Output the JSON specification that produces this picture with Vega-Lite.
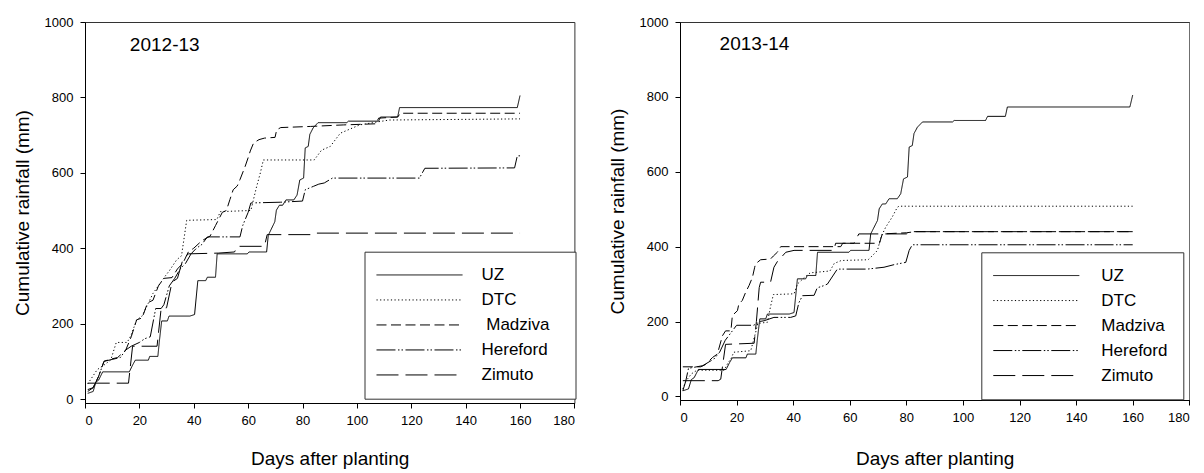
{
  "$schema": "https://vega.github.io/schema/vega-lite/v6.json",
  "background": "white",
  "padding": {"left": 12, "top": 15, "right": 0, "bottom": 0},
  "config": {
    "font": "Liberation Sans",
    "view": {"stroke": "#333", "strokeWidth": 1},
    "axis": {
      "grid": false,
      "domainColor": "black",
      "tickColor": "black",
      "labelColor": "black",
      "titleColor": "black",
      "labelFont": "Liberation Sans",
      "titleFont": "Liberation Sans",
      "labelFontSize": 13,
      "titleFontSize": 19,
      "titleFontWeight": "normal",
      "tickSize": 5,
      "format": "d"
    },
    "legend": {
      "orient": "none",
      "symbolType": "stroke",
      "symbolSize": 7400,
      "symbolStrokeWidth": 1,
      "symbolStrokeColor": "black",
      "clipHeight": 24.5,
      "rowPadding": 0,
      "padding": 11,
      "strokeColor": "#333",
      "fillColor": "white",
      "labelFont": "Liberation Sans",
      "labelFontSize": 17,
      "labelColor": "black",
      "title": null
    }
  },
  "datasets": {
    "rain": [
      {"panel":"L","series":"UZ","day":1,"rain":15},{"panel":"L","series":"UZ","day":3,"rain":20},{"panel":"L","series":"UZ","day":4,"rain":45},{"panel":"L","series":"UZ","day":5,"rain":50},{"panel":"L","series":"UZ","day":6.5,"rain":72},{"panel":"L","series":"UZ","day":16.3,"rain":72},{"panel":"L","series":"UZ","day":17.5,"rain":90},{"panel":"L","series":"UZ","day":18.5,"rain":103},{"panel":"L","series":"UZ","day":23.3,"rain":103},{"panel":"L","series":"UZ","day":23.8,"rain":113},{"panel":"L","series":"UZ","day":26.8,"rain":113},{"panel":"L","series":"UZ","day":27.3,"rain":150},{"panel":"L","series":"UZ","day":28.2,"rain":207},{"panel":"L","series":"UZ","day":30.3,"rain":207},{"panel":"L","series":"UZ","day":30.9,"rain":220},{"panel":"L","series":"UZ","day":38.6,"rain":220},{"panel":"L","series":"UZ","day":40.3,"rain":224},{"panel":"L","series":"UZ","day":41.5,"rain":314},{"panel":"L","series":"UZ","day":44.4,"rain":314},{"panel":"L","series":"UZ","day":45,"rain":323},{"panel":"L","series":"UZ","day":48,"rain":323},{"panel":"L","series":"UZ","day":48.6,"rain":385},{"panel":"L","series":"UZ","day":59.7,"rain":385},{"panel":"L","series":"UZ","day":60.3,"rain":390},{"panel":"L","series":"UZ","day":66.8,"rain":390},{"panel":"L","series":"UZ","day":67.4,"rain":434},{"panel":"L","series":"UZ","day":69.8,"rain":470},{"panel":"L","series":"UZ","day":70.4,"rain":501},{"panel":"L","series":"UZ","day":71.5,"rain":514},{"panel":"L","series":"UZ","day":72.7,"rain":514},{"panel":"L","series":"UZ","day":73.9,"rain":528},{"panel":"L","series":"UZ","day":76.8,"rain":528},{"panel":"L","series":"UZ","day":78,"rain":541},{"panel":"L","series":"UZ","day":79,"rain":581},{"panel":"L","series":"UZ","day":80.4,"rain":586},{"panel":"L","series":"UZ","day":81,"rain":666},{"panel":"L","series":"UZ","day":82.1,"rain":670},{"panel":"L","series":"UZ","day":82.7,"rain":702},{"panel":"L","series":"UZ","day":83.9,"rain":719},{"panel":"L","series":"UZ","day":85.7,"rain":733},{"panel":"L","series":"UZ","day":96.3,"rain":733},{"panel":"L","series":"UZ","day":96.9,"rain":737},{"panel":"L","series":"UZ","day":108,"rain":737},{"panel":"L","series":"UZ","day":108.7,"rain":748},{"panel":"L","series":"UZ","day":115,"rain":748},{"panel":"L","series":"UZ","day":115.7,"rain":773},{"panel":"L","series":"UZ","day":159,"rain":773},{"panel":"L","series":"UZ","day":160,"rain":805},

      {"panel":"L","series":"DTC","day":1,"rain":40},{"panel":"L","series":"DTC","day":4.5,"rain":78},{"panel":"L","series":"DTC","day":7,"rain":90},{"panel":"L","series":"DTC","day":9.5,"rain":104},{"panel":"L","series":"DTC","day":11.5,"rain":150},{"panel":"L","series":"DTC","day":15.5,"rain":150},{"panel":"L","series":"DTC","day":17,"rain":170},{"panel":"L","series":"DTC","day":19,"rain":210},{"panel":"L","series":"DTC","day":21,"rain":220},{"panel":"L","series":"DTC","day":23,"rain":250},{"panel":"L","series":"DTC","day":25,"rain":280},{"panel":"L","series":"DTC","day":27,"rain":300},{"panel":"L","series":"DTC","day":29.4,"rain":325},{"panel":"L","series":"DTC","day":31,"rain":340},{"panel":"L","series":"DTC","day":33.7,"rain":369},{"panel":"L","series":"DTC","day":35.5,"rain":380},{"panel":"L","series":"DTC","day":37.4,"rain":474},{"panel":"L","series":"DTC","day":48.5,"rain":476},{"panel":"L","series":"DTC","day":49.8,"rain":497},{"panel":"L","series":"DTC","day":61,"rain":500},{"panel":"L","series":"DTC","day":63,"rain":560},{"panel":"L","series":"DTC","day":64.5,"rain":600},{"panel":"L","series":"DTC","day":65.6,"rain":634},{"panel":"L","series":"DTC","day":84.3,"rain":634},{"panel":"L","series":"DTC","day":87,"rain":660},{"panel":"L","series":"DTC","day":90.2,"rain":670},{"panel":"L","series":"DTC","day":93.9,"rain":705},{"panel":"L","series":"DTC","day":101,"rain":727},{"panel":"L","series":"DTC","day":107.5,"rain":735},{"panel":"L","series":"DTC","day":112,"rain":740},{"panel":"L","series":"DTC","day":160,"rain":743},

      {"panel":"L","series":"Madziva","day":1,"rain":20},{"panel":"L","series":"Madziva","day":3,"rain":30},{"panel":"L","series":"Madziva","day":5,"rain":60},{"panel":"L","series":"Madziva","day":7,"rain":100},{"panel":"L","series":"Madziva","day":9,"rain":105},{"panel":"L","series":"Madziva","day":12,"rain":110},{"panel":"L","series":"Madziva","day":15,"rain":130},{"panel":"L","series":"Madziva","day":17,"rain":165},{"panel":"L","series":"Madziva","day":19,"rain":210},{"panel":"L","series":"Madziva","day":21,"rain":215},{"panel":"L","series":"Madziva","day":23,"rain":255},{"panel":"L","series":"Madziva","day":25,"rain":262},{"panel":"L","series":"Madziva","day":27,"rain":300},{"panel":"L","series":"Madziva","day":29,"rain":320},{"panel":"L","series":"Madziva","day":32,"rain":322},{"panel":"L","series":"Madziva","day":34,"rain":345},{"panel":"L","series":"Madziva","day":36,"rain":360},{"panel":"L","series":"Madziva","day":38,"rain":390},{"panel":"L","series":"Madziva","day":40,"rain":400},{"panel":"L","series":"Madziva","day":43,"rain":420},{"panel":"L","series":"Madziva","day":46,"rain":432},{"panel":"L","series":"Madziva","day":48,"rain":460},{"panel":"L","series":"Madziva","day":50.5,"rain":495},{"panel":"L","series":"Madziva","day":52,"rain":500},{"panel":"L","series":"Madziva","day":53.3,"rain":529},{"panel":"L","series":"Madziva","day":54.5,"rain":555},{"panel":"L","series":"Madziva","day":56,"rain":565},{"panel":"L","series":"Madziva","day":57,"rain":582},{"panel":"L","series":"Madziva","day":58.9,"rain":617},{"panel":"L","series":"Madziva","day":60,"rain":640},{"panel":"L","series":"Madziva","day":60.8,"rain":658},{"panel":"L","series":"Madziva","day":62,"rain":679},{"panel":"L","series":"Madziva","day":64,"rain":688},{"panel":"L","series":"Madziva","day":66,"rain":692},{"panel":"L","series":"Madziva","day":69.9,"rain":694},{"panel":"L","series":"Madziva","day":70.5,"rain":714},{"panel":"L","series":"Madziva","day":72,"rain":720},{"panel":"L","series":"Madziva","day":83,"rain":723},{"panel":"L","series":"Madziva","day":95,"rain":727},{"panel":"L","series":"Madziva","day":107,"rain":730},{"panel":"L","series":"Madziva","day":108,"rain":745},{"panel":"L","series":"Madziva","day":115,"rain":748},{"panel":"L","series":"Madziva","day":116,"rain":758},{"panel":"L","series":"Madziva","day":160,"rain":758},

      {"panel":"L","series":"Hereford","day":1,"rain":25},{"panel":"L","series":"Hereford","day":3,"rain":30},{"panel":"L","series":"Hereford","day":5,"rain":60},{"panel":"L","series":"Hereford","day":7,"rain":100},{"panel":"L","series":"Hereford","day":10,"rain":105},{"panel":"L","series":"Hereford","day":13,"rain":110},{"panel":"L","series":"Hereford","day":15,"rain":130},{"panel":"L","series":"Hereford","day":17,"rain":140},{"panel":"L","series":"Hereford","day":20,"rain":150},{"panel":"L","series":"Hereford","day":22,"rain":160},{"panel":"L","series":"Hereford","day":24,"rain":165},{"panel":"L","series":"Hereford","day":26,"rain":240},{"panel":"L","series":"Hereford","day":28,"rain":240},{"panel":"L","series":"Hereford","day":29,"rain":250},{"panel":"L","series":"Hereford","day":31,"rain":300},{"panel":"L","series":"Hereford","day":33,"rain":320},{"panel":"L","series":"Hereford","day":35,"rain":345},{"panel":"L","series":"Hereford","day":37,"rain":360},{"panel":"L","series":"Hereford","day":39,"rain":385},{"panel":"L","series":"Hereford","day":41,"rain":400},{"panel":"L","series":"Hereford","day":43,"rain":410},{"panel":"L","series":"Hereford","day":45,"rain":430},{"panel":"L","series":"Hereford","day":57,"rain":430},{"panel":"L","series":"Hereford","day":58,"rain":460},{"panel":"L","series":"Hereford","day":60,"rain":495},{"panel":"L","series":"Hereford","day":61,"rain":520},{"panel":"L","series":"Hereford","day":72,"rain":522},{"panel":"L","series":"Hereford","day":80,"rain":525},{"panel":"L","series":"Hereford","day":81,"rain":555},{"panel":"L","series":"Hereford","day":84,"rain":564},{"panel":"L","series":"Hereford","day":86,"rain":570},{"panel":"L","series":"Hereford","day":88,"rain":573},{"panel":"L","series":"Hereford","day":91,"rain":586},{"panel":"L","series":"Hereford","day":123,"rain":586},{"panel":"L","series":"Hereford","day":125,"rain":612},{"panel":"L","series":"Hereford","day":158,"rain":613},{"panel":"L","series":"Hereford","day":159,"rain":645},{"panel":"L","series":"Hereford","day":160,"rain":645},

      {"panel":"L","series":"Zimuto","day":1,"rain":42},{"panel":"L","series":"Zimuto","day":16,"rain":42},{"panel":"L","series":"Zimuto","day":17.5,"rain":140},{"panel":"L","series":"Zimuto","day":26.5,"rain":140},{"panel":"L","series":"Zimuto","day":28,"rain":240},{"panel":"L","series":"Zimuto","day":30,"rain":242},{"panel":"L","series":"Zimuto","day":32,"rain":310},{"panel":"L","series":"Zimuto","day":34,"rain":320},{"panel":"L","series":"Zimuto","day":36,"rain":370},{"panel":"L","series":"Zimuto","day":38,"rain":385},{"panel":"L","series":"Zimuto","day":49,"rain":387},{"panel":"L","series":"Zimuto","day":55,"rain":390},{"panel":"L","series":"Zimuto","day":56,"rain":405},{"panel":"L","series":"Zimuto","day":66,"rain":405},{"panel":"L","series":"Zimuto","day":67,"rain":436},{"panel":"L","series":"Zimuto","day":83,"rain":436},{"panel":"L","series":"Zimuto","day":84,"rain":440},{"panel":"L","series":"Zimuto","day":160,"rain":440},

      {"panel":"R","series":"UZ","day":1,"rain":15},{"panel":"R","series":"UZ","day":3,"rain":20},{"panel":"R","series":"UZ","day":4,"rain":45},{"panel":"R","series":"UZ","day":5,"rain":50},{"panel":"R","series":"UZ","day":6.5,"rain":72},{"panel":"R","series":"UZ","day":16.3,"rain":72},{"panel":"R","series":"UZ","day":17.5,"rain":90},{"panel":"R","series":"UZ","day":18.5,"rain":103},{"panel":"R","series":"UZ","day":23.3,"rain":103},{"panel":"R","series":"UZ","day":23.8,"rain":113},{"panel":"R","series":"UZ","day":26.8,"rain":113},{"panel":"R","series":"UZ","day":27.3,"rain":150},{"panel":"R","series":"UZ","day":28.2,"rain":207},{"panel":"R","series":"UZ","day":30.3,"rain":207},{"panel":"R","series":"UZ","day":30.9,"rain":220},{"panel":"R","series":"UZ","day":38.6,"rain":220},{"panel":"R","series":"UZ","day":40.3,"rain":224},{"panel":"R","series":"UZ","day":41.5,"rain":314},{"panel":"R","series":"UZ","day":44.4,"rain":314},{"panel":"R","series":"UZ","day":45,"rain":323},{"panel":"R","series":"UZ","day":48,"rain":323},{"panel":"R","series":"UZ","day":48.6,"rain":385},{"panel":"R","series":"UZ","day":59.7,"rain":385},{"panel":"R","series":"UZ","day":60.3,"rain":390},{"panel":"R","series":"UZ","day":66.8,"rain":390},{"panel":"R","series":"UZ","day":67.4,"rain":434},{"panel":"R","series":"UZ","day":69.8,"rain":470},{"panel":"R","series":"UZ","day":70.4,"rain":501},{"panel":"R","series":"UZ","day":71.5,"rain":514},{"panel":"R","series":"UZ","day":72.7,"rain":514},{"panel":"R","series":"UZ","day":73.9,"rain":528},{"panel":"R","series":"UZ","day":76.8,"rain":528},{"panel":"R","series":"UZ","day":78,"rain":541},{"panel":"R","series":"UZ","day":79,"rain":581},{"panel":"R","series":"UZ","day":80.4,"rain":586},{"panel":"R","series":"UZ","day":81,"rain":666},{"panel":"R","series":"UZ","day":82.1,"rain":670},{"panel":"R","series":"UZ","day":82.7,"rain":702},{"panel":"R","series":"UZ","day":83.9,"rain":719},{"panel":"R","series":"UZ","day":85.7,"rain":733},{"panel":"R","series":"UZ","day":96.3,"rain":733},{"panel":"R","series":"UZ","day":96.9,"rain":737},{"panel":"R","series":"UZ","day":108,"rain":737},{"panel":"R","series":"UZ","day":108.7,"rain":748},{"panel":"R","series":"UZ","day":115,"rain":748},{"panel":"R","series":"UZ","day":115.7,"rain":773},{"panel":"R","series":"UZ","day":159,"rain":773},{"panel":"R","series":"UZ","day":160,"rain":805},

      {"panel":"R","series":"DTC","day":1,"rain":20},{"panel":"R","series":"DTC","day":2,"rain":40},{"panel":"R","series":"DTC","day":4,"rain":60},{"panel":"R","series":"DTC","day":6,"rain":70},{"panel":"R","series":"DTC","day":15.6,"rain":70},{"panel":"R","series":"DTC","day":17,"rain":90},{"panel":"R","series":"DTC","day":18,"rain":100},{"panel":"R","series":"DTC","day":19,"rain":118},{"panel":"R","series":"DTC","day":25,"rain":122},{"panel":"R","series":"DTC","day":26.7,"rain":170},{"panel":"R","series":"DTC","day":27.5,"rain":195},{"panel":"R","series":"DTC","day":30.9,"rain":198},{"panel":"R","series":"DTC","day":32,"rain":240},{"panel":"R","series":"DTC","day":33,"rain":272},{"panel":"R","series":"DTC","day":40.3,"rain":274},{"panel":"R","series":"DTC","day":41.5,"rain":300},{"panel":"R","series":"DTC","day":44,"rain":318},{"panel":"R","series":"DTC","day":46,"rain":330},{"panel":"R","series":"DTC","day":53,"rain":335},{"panel":"R","series":"DTC","day":54.5,"rain":355},{"panel":"R","series":"DTC","day":57,"rain":363},{"panel":"R","series":"DTC","day":66.5,"rain":365},{"panel":"R","series":"DTC","day":68,"rain":376},{"panel":"R","series":"DTC","day":69.8,"rain":390},{"panel":"R","series":"DTC","day":71,"rain":425},{"panel":"R","series":"DTC","day":72.7,"rain":452},{"panel":"R","series":"DTC","day":75,"rain":479},{"panel":"R","series":"DTC","day":76.8,"rain":505},{"panel":"R","series":"DTC","day":77.4,"rain":508},{"panel":"R","series":"DTC","day":160,"rain":508},

      {"panel":"R","series":"Madziva","day":1,"rain":79},{"panel":"R","series":"Madziva","day":7.3,"rain":79},{"panel":"R","series":"Madziva","day":9,"rain":85},{"panel":"R","series":"Madziva","day":11.5,"rain":104},{"panel":"R","series":"Madziva","day":13.2,"rain":113},{"panel":"R","series":"Madziva","day":15,"rain":162},{"panel":"R","series":"Madziva","day":16.1,"rain":175},{"panel":"R","series":"Madziva","day":18,"rain":175},{"panel":"R","series":"Madziva","day":18.5,"rain":216},{"panel":"R","series":"Madziva","day":20.3,"rain":229},{"panel":"R","series":"Madziva","day":20.8,"rain":247},{"panel":"R","series":"Madziva","day":22,"rain":256},{"panel":"R","series":"Madziva","day":23.2,"rain":278},{"panel":"R","series":"Madziva","day":24.4,"rain":296},{"panel":"R","series":"Madziva","day":25.6,"rain":318},{"panel":"R","series":"Madziva","day":26.4,"rain":345},{"panel":"R","series":"Madziva","day":26.7,"rain":354},{"panel":"R","series":"Madziva","day":28.5,"rain":365},{"panel":"R","series":"Madziva","day":32,"rain":367},{"panel":"R","series":"Madziva","day":33,"rain":375},{"panel":"R","series":"Madziva","day":34.4,"rain":385},{"panel":"R","series":"Madziva","day":35.6,"rain":400},{"panel":"R","series":"Madziva","day":56.8,"rain":400},{"panel":"R","series":"Madziva","day":57.5,"rain":409},{"panel":"R","series":"Madziva","day":70.5,"rain":409},{"panel":"R","series":"Madziva","day":71.5,"rain":434},{"panel":"R","series":"Madziva","day":80,"rain":437},{"panel":"R","series":"Madziva","day":83,"rain":440},{"panel":"R","series":"Madziva","day":160,"rain":440},

      {"panel":"R","series":"Hereford","day":1,"rain":15},{"panel":"R","series":"Hereford","day":2,"rain":40},{"panel":"R","series":"Hereford","day":3,"rain":75},{"panel":"R","series":"Hereford","day":8,"rain":82},{"panel":"R","series":"Hereford","day":12,"rain":100},{"panel":"R","series":"Hereford","day":14,"rain":118},{"panel":"R","series":"Hereford","day":16,"rain":150},{"panel":"R","series":"Hereford","day":18,"rain":170},{"panel":"R","series":"Hereford","day":20,"rain":190},{"panel":"R","series":"Hereford","day":26,"rain":190},{"panel":"R","series":"Hereford","day":27.3,"rain":195},{"panel":"R","series":"Hereford","day":28,"rain":200},{"panel":"R","series":"Hereford","day":29.7,"rain":202},{"panel":"R","series":"Hereford","day":33.2,"rain":211},{"panel":"R","series":"Hereford","day":39.1,"rain":211},{"panel":"R","series":"Hereford","day":40.9,"rain":215},{"panel":"R","series":"Hereford","day":42,"rain":250},{"panel":"R","series":"Hereford","day":43.3,"rain":269},{"panel":"R","series":"Hereford","day":47.4,"rain":270},{"panel":"R","series":"Hereford","day":48.5,"rain":290},{"panel":"R","series":"Hereford","day":50.9,"rain":296},{"panel":"R","series":"Hereford","day":52.1,"rain":300},{"panel":"R","series":"Hereford","day":55.6,"rain":340},{"panel":"R","series":"Hereford","day":66.2,"rain":340},{"panel":"R","series":"Hereford","day":72.1,"rain":345},{"panel":"R","series":"Hereford","day":75.7,"rain":352},{"panel":"R","series":"Hereford","day":79.8,"rain":358},{"panel":"R","series":"Hereford","day":81,"rain":390},{"panel":"R","series":"Hereford","day":82.1,"rain":405},{"panel":"R","series":"Hereford","day":160,"rain":405},

      {"panel":"R","series":"Zimuto","day":1,"rain":42},{"panel":"R","series":"Zimuto","day":13.5,"rain":42},{"panel":"R","series":"Zimuto","day":14.4,"rain":46},{"panel":"R","series":"Zimuto","day":16.1,"rain":139},{"panel":"R","series":"Zimuto","day":26.2,"rain":142},{"panel":"R","series":"Zimuto","day":27,"rain":200},{"panel":"R","series":"Zimuto","day":28,"rain":291},{"panel":"R","series":"Zimuto","day":28.5,"rain":305},{"panel":"R","series":"Zimuto","day":32,"rain":305},{"panel":"R","series":"Zimuto","day":33.2,"rain":345},{"panel":"R","series":"Zimuto","day":34.4,"rain":360},{"panel":"R","series":"Zimuto","day":37.4,"rain":385},{"panel":"R","series":"Zimuto","day":40.3,"rain":390},{"panel":"R","series":"Zimuto","day":54.4,"rain":390},{"panel":"R","series":"Zimuto","day":55,"rain":409},{"panel":"R","series":"Zimuto","day":61.5,"rain":409},{"panel":"R","series":"Zimuto","day":63.2,"rain":434},{"panel":"R","series":"Zimuto","day":80,"rain":434},{"panel":"R","series":"Zimuto","day":82,"rain":440},{"panel":"R","series":"Zimuto","day":160,"rain":440}
    ]
  },
  "bounds": "flush",
  "spacing": 105,
  "resolve": {"scale": {"strokeDash": "independent", "x": "independent", "y": "independent"}, "legend": {"strokeDash": "independent"}},
  "hconcat": [
    {
      "width": 489.4,
      "height": 381,
      "layer": [
        {
          "data": {"name": "rain"},
          "transform": [{"filter": "datum.panel == 'L'"}],
          "mark": {"type": "line", "color": "black", "strokeWidth": 1},
          "encoding": {
            "x": {"field": "day", "type": "quantitative", "scale": {"domain": [0, 180], "nice": false, "zero": false},
                  "axis": {"values": [0,20,40,60,80,100,120,140,160,180], "title": "Days after planting", "labelPadding": 6, "titlePadding": 22}},
            "y": {"field": "rain", "type": "quantitative", "scale": {"domain": [-10.6, 1000], "nice": false, "zero": false},
                  "axis": {"values": [0,200,400,600,800,1000], "title": "Cumulative rainfall (mm)", "labelPadding": 7, "titlePadding": 12}},
            "strokeDash": {"field": "series", "type": "nominal",
              "scale": {"domain": ["UZ","DTC","Madziva","Hereford","Zimuto"], "range": [[1,0],[1.2,2.4],[10,4.5],[19,2.5,1.5,2,1.5,2.5],[22,7]]},
              "legend": {"legendX": 279.5, "legendY": 229.7, "labelOffset": 18,
                "labelExpr": "(datum.label == 'Madziva' ? '\u200b\u00a0' : '') + datum.label + '\u00a0\u00a0\u00a0\u200b'"}}
          }
        },
        {
          "data": {"values": [{"label": "2012-13"}]},
          "mark": {"type": "text", "align": "left", "baseline": "alphabetic", "fontSize": 19, "font": "Liberation Sans", "color": "black"},
          "encoding": {
            "text": {"field": "label"},
            "x": {"datum": 16.5, "type": "quantitative"},
            "y": {"datum": 924, "type": "quantitative"}
          }
        }
      ]
    },
    {
      "width": 509.3,
      "height": 378,
      "layer": [
        {
          "data": {"name": "rain"},
          "transform": [{"filter": "datum.panel == 'R'"}],
          "mark": {"type": "line", "color": "black", "strokeWidth": 1},
          "encoding": {
            "x": {"field": "day", "type": "quantitative", "scale": {"domain": [0, 180], "nice": false, "zero": false},
                  "axis": {"values": [0,20,40,60,80,100,120,140,160,180], "title": "Days after planting", "labelPadding": 6, "titlePadding": 25}},
            "y": {"field": "rain", "type": "quantitative", "scale": {"domain": [-9.6, 1000], "nice": false, "zero": false},
                  "axis": {"values": [0,200,400,600,800,1000], "title": "Cumulative rainfall (mm)", "labelPadding": 7, "titlePadding": 12}},
            "strokeDash": {"field": "series", "type": "nominal",
              "scale": {"domain": ["UZ","DTC","Madziva","Hereford","Zimuto"], "range": [[1,0],[1.2,2.4],[10,4.5],[19,2.5,1.5,2,1.5,2.5],[22,7]]},
              "legend": {"legendX": 301.3, "legendY": 230.3, "labelOffset": 21,
                "labelExpr": "datum.label + '\u00a0\u200b'"}}
          }
        },
        {
          "data": {"values": [{"label": "2013-14"}]},
          "mark": {"type": "text", "align": "left", "baseline": "alphabetic", "fontSize": 19, "font": "Liberation Sans", "color": "black"},
          "encoding": {
            "text": {"field": "label"},
            "x": {"datum": 14.0, "type": "quantitative"},
            "y": {"datum": 926, "type": "quantitative"}
          }
        }
      ]
    }
  ]
}
